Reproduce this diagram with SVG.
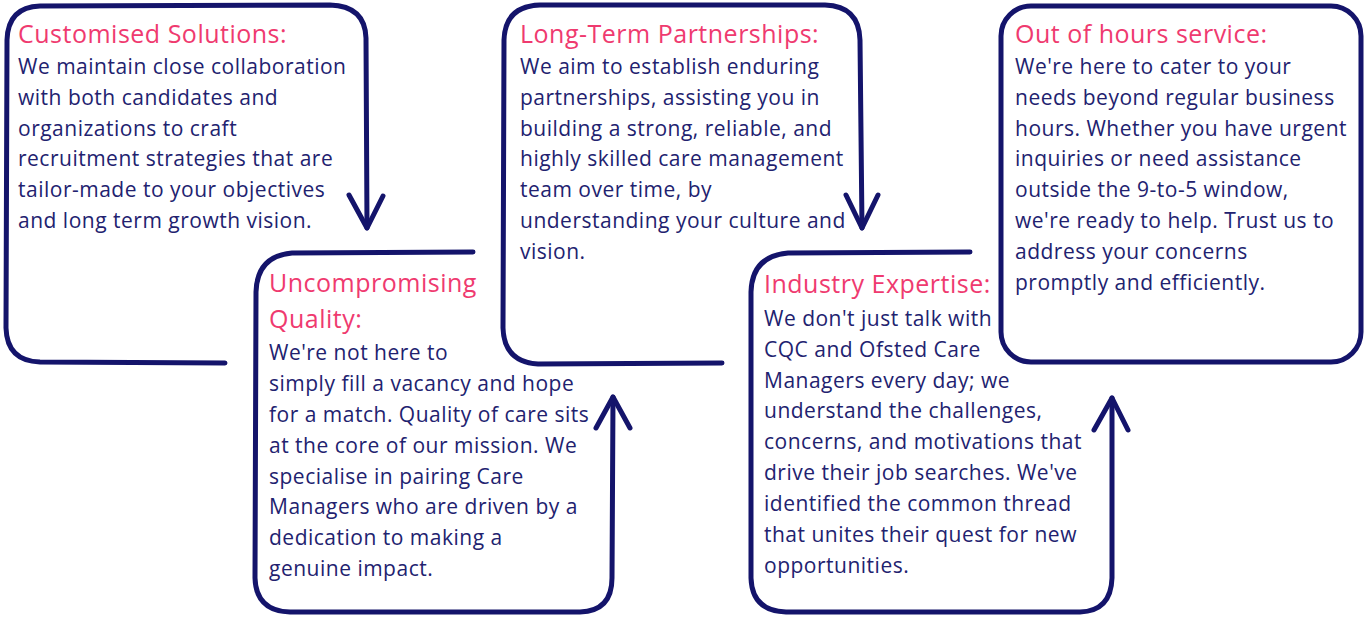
<svg xmlns="http://www.w3.org/2000/svg" width="1366" height="621" viewBox="0 0 1366 621">
<style>
.frame{fill:none;stroke:#14146b;stroke-width:5;stroke-linecap:round;stroke-linejoin:round}
.t{font-family:"Open Sans","Liberation Sans",sans-serif;font-size:25px;letter-spacing:0.5px;fill:#ef3a6f}
.b{font-family:"Open Sans","Liberation Sans",sans-serif;font-size:21px;letter-spacing:0.5px;fill:#22226f}
</style>
<rect width="1366" height="621" fill="#ffffff"/>
<g id="connectors">
<path class="frame" d="M225,363 L40,362 Q7,361 6,328 L7,40 Q8,7 40,6 L330,5 Q365,6 366,38 L367,228"/>
<polyline class="frame" points="349,195 367,228 383,196"/>
<path class="frame" d="M473,252 L292,253 Q257,256 256,292 L255,578 Q256,611 290,612 L580,612 Q612,611 612,578 L613,397"/>
<polyline class="frame" points="596,428 613,397 630,428"/>
<path class="frame" d="M722,363 L538,364 Q504,362 503,328 L504,40 Q505,6 540,5 L825,5 Q859,6 860,40 L862,228"/>
<polyline class="frame" points="846,195 862,228 878,195"/>
<path class="frame" d="M970,252 L788,253 Q752,256 751,292 L751,578 Q752,611 786,612 L1080,612 Q1111,611 1112,578 L1112,398"/>
<polyline class="frame" points="1094,430 1112,398 1128,430"/>
</g>
<g id="node1">
<text class="t" x="18" y="43">Customised Solutions:</text>
<text class="b" x="18" y="74">We maintain close collaboration</text>
<text class="b" x="18" y="105">with both candidates and</text>
<text class="b" x="18" y="136">organizations to craft</text>
<text class="b" x="18" y="166">recruitment strategies that are</text>
<text class="b" x="18" y="197">tailor-made to your objectives</text>
<text class="b" x="18" y="228">and long term growth vision.</text>
</g>
<g id="node2">
<text class="t" x="269" y="292">Uncompromising</text>
<text class="t" x="269" y="328">Quality:</text>
<text class="b" x="269" y="360">We're not here to</text>
<text class="b" x="269" y="391">simply fill a vacancy and hope</text>
<text class="b" x="269" y="422">for a match. Quality of care sits</text>
<text class="b" x="269" y="453">at the core of our mission. We</text>
<text class="b" x="269" y="484">specialise in pairing Care</text>
<text class="b" x="269" y="514">Managers who are driven by a</text>
<text class="b" x="269" y="545">dedication to making a</text>
<text class="b" x="269" y="576">genuine impact.</text>
</g>
<g id="node3">
<text class="t" x="520" y="43">Long-Term Partnerships:</text>
<text class="b" x="520" y="74">We aim to establish enduring</text>
<text class="b" x="520" y="105">partnerships, assisting you in</text>
<text class="b" x="520" y="136">building a strong, reliable, and</text>
<text class="b" x="520" y="166">highly skilled care management</text>
<text class="b" x="520" y="197">team over time, by</text>
<text class="b" x="520" y="228">understanding your culture and</text>
<text class="b" x="520" y="259">vision.</text>
</g>
<g id="node4">
<text class="t" x="764" y="293">Industry Expertise:</text>
<text class="b" x="764" y="326">We don't just talk with</text>
<text class="b" x="764" y="357">CQC and Ofsted Care</text>
<text class="b" x="764" y="388">Managers every day; we</text>
<text class="b" x="764" y="418">understand the challenges,</text>
<text class="b" x="764" y="449">concerns, and motivations that</text>
<text class="b" x="764" y="480">drive their job searches. We've</text>
<text class="b" x="764" y="511">identified the common thread</text>
<text class="b" x="764" y="542">that unites their quest for new</text>
<text class="b" x="764" y="573">opportunities.</text>
</g>
<g id="node5">
<rect class="frame" x="1001" y="6" width="360" height="356" rx="30"/>
<text class="t" x="1015" y="43">Out of hours service:</text>
<text class="b" x="1015" y="74">We're here to cater to your</text>
<text class="b" x="1015" y="105">needs beyond regular business</text>
<text class="b" x="1015" y="136">hours. Whether you have urgent</text>
<text class="b" x="1015" y="166">inquiries or need assistance</text>
<text class="b" x="1015" y="197">outside the 9-to-5 window,</text>
<text class="b" x="1015" y="228">we're ready to help. Trust us to</text>
<text class="b" x="1015" y="259">address your concerns</text>
<text class="b" x="1015" y="290">promptly and efficiently.</text>
</g>
</svg>
